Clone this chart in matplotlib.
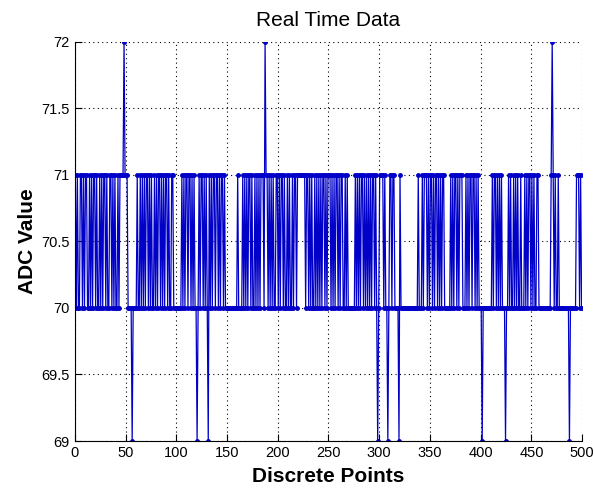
import numpy as np
import matplotlib
matplotlib.use("Agg")
import matplotlib.pyplot as plt

# ADC samples, one char per point: '0'=69, '1'=70, '2'=71, '3'=72
seg_000 = "2121122121" "2211212122" "1211212122" "1211221212" "1121222232"
seg_050 = "2211110111" "1211212121" "2212121121" "2122121212" "2121122111"
seg_100 = "1111121212" "2122121211" "0121221212" "1021212212" "2121221211"
seg_150 = "1111111111" "2111121212" "1221211212" "1212221322" "1212121122"
seg_200 = "1212212112" "1211212212" "2222222122" "1212112121" "2121221212"
seg_250 = "2212121221" "2122112121" "1111112121" "2122121212" "1212212101"
seg_300 = "2222121101" "2212211110" "2111111111" "1111111121" "1121222121"
seg_350 = "2212122121" "2122111111" "2121221212" "2211121212" "2122121211"
seg_400 = "1011111111" "1212212121" "2111011212" "1121212112" "1112121221"
seg_450 = "2121122111" "1111111112" "3212112111" "1111111011" "1111222121"

segments = [seg_000, seg_050, seg_100, seg_150, seg_200,
            seg_250, seg_300, seg_350, seg_400, seg_450]
adc = np.array([69 + int(c) for s in segments for c in s])
points = np.arange(0, len(adc)) + 0.5

plt.rcParams['font.family'] = ['Liberation Sans', 'DejaVu Sans']

fig = plt.figure(figsize=(5.94, 4.90), dpi=100)
ax = fig.add_axes([0.126, 0.100, 0.854, 0.815])

ax.plot(points, adc, color='#0000c8', linewidth=0.9, marker='.', markersize=5)

ax.set_xlim(0, 500)
ax.set_ylim(69, 72)
ax.set_xticks(np.arange(0, 501, 50))
ax.set_yticks(np.arange(69, 72.01, 0.5))
ax.set_yticklabels(["69", "69.5", "70", "70.5", "71", "71.5", "72"])
ax.tick_params(direction='in', labelsize=10.5, length=5)
ax.grid(True, linestyle=(0, (1, 3)), color='black', linewidth=0.8)
ax.spines['top'].set_visible(False)
ax.spines['right'].set_visible(False)

ax.set_title("Real Time Data", fontsize=15, pad=11)
ax.set_xlabel("Discrete Points", fontsize=15, fontweight='bold', labelpad=5)
ax.set_ylabel("ADC Value", fontsize=15, fontweight='bold', labelpad=3)

fig.savefig("out.png", dpi=100)
